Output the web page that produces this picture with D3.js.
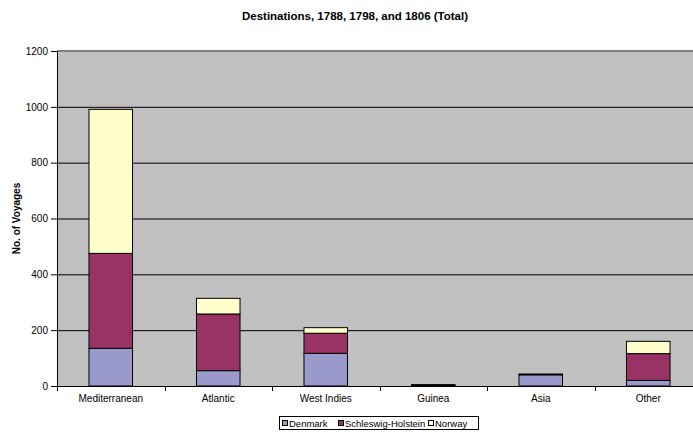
<!DOCTYPE html>
<html>
<head>
<meta charset="utf-8">
<script src="https://cdn.jsdelivr.net/npm/d3@7"></script>
<style>
  body { margin: 0; background: #fff; }
  text { font-family: "Liberation Sans", Arial, sans-serif; fill: #000; }
</style>
</head>
<body>
<svg id="chart" width="693" height="434"></svg>
<script>
var categories = ['Mediterranean', 'Atlantic', 'West Indies', 'Guinea', 'Asia', 'Other'];
var seriesNames = ['Denmark', 'Schleswig-Holstein', 'Norway'];
var denmark = [135, 55, 117, 2, 40, 20];
var schleswig = [340, 203, 72, 3, 3, 96];
var norway = [516, 56, 20, 0, 0, 44];
var yTicks = [0, 200, 400, 600, 800, 1000, 1200];
var colors = ['#9999cc', '#993366', '#ffffcc'];

var svg = d3.select('#chart');
var plot = { left: 57, right: 702, top: 51, bottom: 386 };

// table for d3.stack
var rows = categories.map(function(c, i) {
  return { cat: c, 'Denmark': denmark[i], 'Schleswig-Holstein': schleswig[i], 'Norway': norway[i] };
});
var stacked = d3.stack().keys(seriesNames)(rows);

var x = d3.scaleBand().domain(categories)
  .range([plot.left, plot.right]).paddingInner(0.595).paddingOuter(0.2975);
var xb = d3.scaleBand().domain(categories).range([plot.left, plot.right]);
var y = d3.scaleLinear().domain([0, 1200]).range([plot.bottom, plot.top]);

// plot background
svg.append('rect')
  .attr('x', plot.left).attr('y', plot.top)
  .attr('width', plot.right - plot.left).attr('height', plot.bottom - plot.top)
  .attr('fill', '#c0c0c0');

// gridlines
svg.append('g').selectAll('line')
  .data(yTicks.filter(function(t) { return t > 0 && t < 1200; }))
  .enter().append('line')
  .attr('x1', plot.left).attr('x2', plot.right)
  .attr('y1', function(d) { return y(d) + 0.5; })
  .attr('y2', function(d) { return y(d) + 0.5; })
  .attr('stroke', '#000').attr('stroke-width', 1);

// top border
svg.append('line')
  .attr('x1', plot.left).attr('x2', plot.right)
  .attr('y1', plot.top).attr('y2', plot.top)
  .attr('stroke', '#808080').attr('stroke-width', 2);

// bars
svg.append('g').selectAll('g')
  .data(stacked).enter().append('g')
  .attr('fill', function(d, i) { return colors[i]; })
  .selectAll('rect')
  .data(function(d) { return d; })
  .enter().append('rect')
  .attr('x', function(d) { return x(d.data.cat); })
  .attr('width', x.bandwidth())
  .attr('y', function(d) { return y(d[1]); })
  .attr('height', function(d) { return y(d[0]) - y(d[1]); })
  .attr('stroke', '#000').attr('stroke-width', 1);

// y axis
var yAxis = svg.append('g')
  .attr('transform', 'translate(' + plot.left + ',0)')
  .call(d3.axisLeft(y).tickValues(yTicks).tickFormat(d3.format('d')).tickSize(6).tickPadding(3));
yAxis.select('.domain').attr('stroke', '#000');
yAxis.selectAll('.tick line').attr('stroke', '#000');
yAxis.selectAll('text').style('font-size', '10px').attr('font-family', null);

// x axis
var xAxis = svg.append('g')
  .attr('transform', 'translate(0,' + plot.bottom + ')')
  .call(d3.axisBottom(xb).tickSize(0).tickPadding(9));
xAxis.select('.domain').remove();
xAxis.selectAll('text').style('font-size', '10px').attr('font-family', null);
svg.append('line')
  .attr('x1', plot.left).attr('x2', plot.right)
  .attr('y1', plot.bottom + 0.5).attr('y2', plot.bottom + 0.5)
  .attr('stroke', '#000');
svg.append('g').selectAll('line')
  .data(categories).enter().append('line')
  .attr('x1', function(d) { return Math.round(xb(d)) + 0.5; })
  .attr('x2', function(d) { return Math.round(xb(d)) + 0.5; })
  .attr('y1', plot.bottom).attr('y2', plot.bottom + 5)
  .attr('stroke', '#000');

// title
svg.append('text')
  .attr('x', 355).attr('y', 20)
  .attr('text-anchor', 'middle')
  .style('font-size', '11.5px').style('font-weight', 'bold')
  .text('Destinations, 1788, 1798, and 1806 (Total)');

// y label
svg.append('text')
  .attr('transform', 'translate(20,' + ((plot.top + plot.bottom) / 2) + ') rotate(-90)')
  .attr('text-anchor', 'middle')
  .style('font-size', '10px').style('font-weight', 'bold')
  .text('No. of Voyages');

// legend
var legend = svg.append('g');
legend.append('rect')
  .attr('x', 279.5).attr('y', 416.5).attr('width', 199).attr('height', 13)
  .attr('fill', '#fff').attr('stroke', '#000');
var legendX = [282, 338, 428];
seriesNames.forEach(function(name, i) {
  legend.append('rect')
    .attr('x', legendX[i] + 0.5).attr('y', 420.5).attr('width', 5).attr('height', 5)
    .attr('fill', colors[i]).attr('stroke', '#000');
  legend.append('text')
    .attr('x', legendX[i] + 7).attr('y', 426.5)
    .style('font-size', '9.5px')
    .text(name);
});
</script>
</body>
</html>
